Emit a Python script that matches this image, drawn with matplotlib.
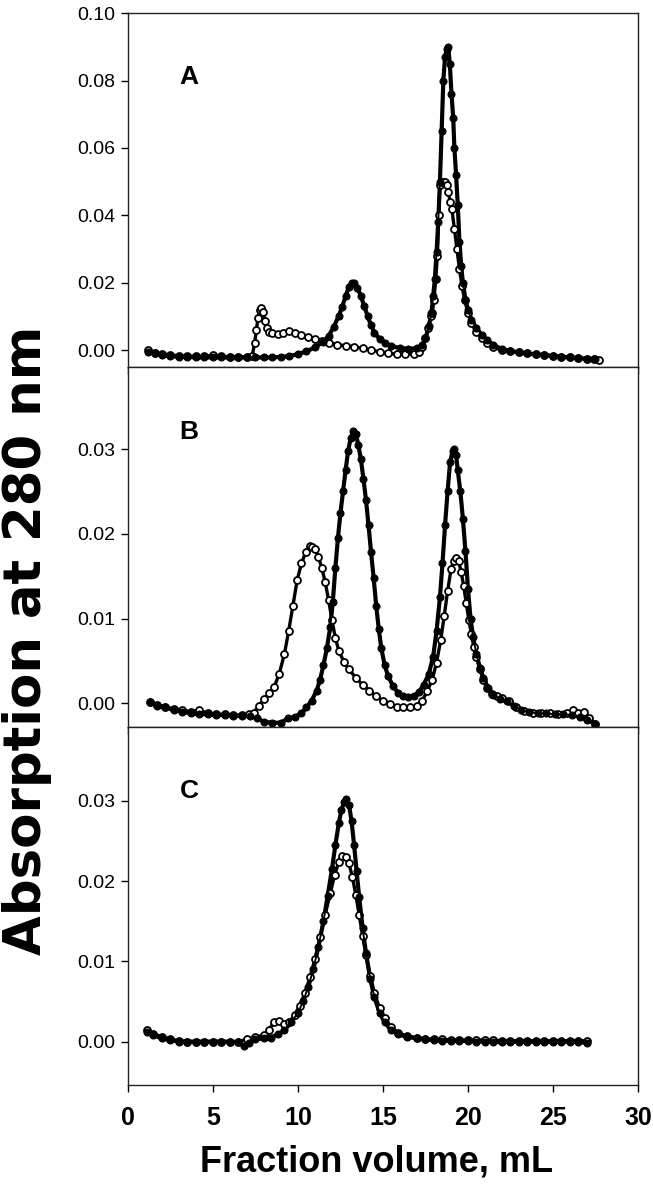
import matplotlib.pyplot as plt

# ---- panel A ----
a_fill_x = [1.2, 1.6, 2.0, 2.5, 3.0, 3.5, 4.0, 4.5, 5.0, 5.5, 6.0, 6.5, 7.0, 7.5, 8.0, 8.5,
            9.0, 9.5, 10.0, 10.5, 11.0, 11.5, 11.8, 12.1, 12.4, 12.6, 12.8, 13.0, 13.15, 13.3,
            13.5, 13.7, 13.9, 14.1, 14.3, 14.5, 14.8, 15.1, 15.5, 16.0, 16.5, 17.0, 17.3, 17.5,
            17.7, 17.85, 17.95, 18.05, 18.15, 18.25, 18.35, 18.45, 18.55, 18.65, 18.75, 18.84,
            18.93, 19.03, 19.13, 19.2, 19.3, 19.4, 19.5, 19.6, 19.7, 19.85, 20.0, 20.2, 20.5,
            20.8, 21.1, 21.5, 22.0, 22.5, 23.0, 23.5, 24.0, 24.5, 25.0, 25.5, 26.0, 26.5, 27.0, 27.5]
a_fill_y = [-0.0005, -0.001, -0.0015, -0.0018, -0.002, -0.002, -0.0022, -0.0022, -0.0022,
            -0.0022, -0.0022, -0.0022, -0.0022, -0.0022, -0.0022, -0.0022, -0.002, -0.0018,
            -0.0012, -0.0004, 0.0008, 0.0025, 0.0042, 0.0068, 0.0102, 0.0128, 0.016, 0.0188,
            0.020, 0.0198, 0.0185, 0.016, 0.013, 0.010, 0.0073, 0.0052, 0.0033, 0.0022, 0.0012,
            0.0006, 0.0004, 0.0005, 0.0015, 0.0035, 0.007, 0.011, 0.016, 0.021, 0.029, 0.038,
            0.050, 0.065, 0.080, 0.087, 0.0895, 0.090, 0.085, 0.076, 0.069, 0.060, 0.052, 0.043,
            0.032, 0.025, 0.020, 0.015, 0.012, 0.009, 0.0065, 0.0045, 0.003, 0.0015, 0.0003,
            -0.0003, -0.0007, -0.001, -0.0013, -0.0015, -0.0017, -0.002, -0.0022, -0.0024,
            -0.0026, -0.0028]

a_open_x = [1.2, 1.6, 2.0, 2.5, 3.0, 3.5, 4.0, 4.5, 5.0, 5.5, 6.0, 6.5, 7.0, 7.3, 7.45, 7.55,
            7.65, 7.75, 7.85, 7.95, 8.05, 8.15, 8.3, 8.5, 8.8, 9.1, 9.5, 9.8, 10.2, 10.6, 11.0,
            11.4, 11.8, 12.3, 12.8, 13.3, 13.8, 14.3, 14.8, 15.3, 15.8, 16.3, 16.8, 17.1, 17.3,
            17.5, 17.65, 17.8, 17.9, 18.0, 18.1, 18.2, 18.28, 18.35, 18.45, 18.55, 18.65, 18.75,
            18.85, 18.95, 19.05, 19.2, 19.35, 19.5, 19.65, 19.8, 20.0, 20.2, 20.5, 20.8, 21.1,
            21.5, 22.0, 22.5, 23.0, 23.5, 24.0, 24.5, 25.0, 25.5, 26.0, 26.5, 27.0, 27.4, 27.7]
a_open_y = [0.0, -0.0008, -0.0012, -0.0015, -0.0017, -0.0018, -0.0018, -0.0019, -0.0015,
            -0.0019, -0.002, -0.002, -0.002, -0.0018, 0.002, 0.006, 0.0095, 0.0118, 0.0124,
            0.0112, 0.0085, 0.0065, 0.0055, 0.005, 0.0049, 0.005, 0.0056, 0.0052, 0.0046, 0.004,
            0.0034, 0.0028, 0.0022, 0.0016, 0.0013, 0.001, 0.0005, 0.0, -0.0005, -0.001, -0.0012,
            -0.0012, -0.0011, -0.0005, 0.001, 0.0035, 0.0065, 0.010, 0.011, 0.015, 0.021, 0.028,
            0.040, 0.049, 0.050, 0.050, 0.050, 0.049, 0.047, 0.044, 0.042, 0.036, 0.030, 0.024,
            0.019, 0.015, 0.011, 0.008, 0.0055, 0.0035, 0.002, 0.0008, 0.0, -0.0003, -0.0007,
            -0.001, -0.0013, -0.0015, -0.0018, -0.002, -0.0022, -0.0024, -0.0026, -0.0028, -0.003]

# ---- panel B ----
b_fill_x = [1.3, 1.7, 2.2, 2.7, 3.2, 3.7, 4.2, 4.7, 5.2, 5.7, 6.2, 6.7, 7.2, 7.6, 8.0, 8.5, 9.0,
            9.4, 9.8, 10.2, 10.5, 10.8, 11.1, 11.3, 11.5, 11.7, 11.9, 12.05, 12.2, 12.35, 12.5,
            12.65, 12.8, 12.95, 13.1, 13.25, 13.4, 13.55, 13.7, 13.85, 14.0, 14.15, 14.3, 14.45,
            14.6, 14.75, 14.9, 15.1, 15.3, 15.6, 15.9, 16.2, 16.5, 16.8, 17.1, 17.4, 17.7, 17.95,
            18.15, 18.35, 18.5, 18.65, 18.8, 18.95, 19.1, 19.2, 19.3, 19.4, 19.55, 19.7, 19.85,
            20.0, 20.15, 20.3, 20.5, 20.7, 20.9, 21.2, 21.5, 21.9, 22.3, 22.7, 23.1, 23.6, 24.1,
            24.6, 25.1, 25.6, 26.1, 26.6, 27.0, 27.5]
b_fill_y = [0.0002, -0.0003, -0.0005, -0.0008, -0.001, -0.0012, -0.0013, -0.0013, -0.0014,
            -0.0014, -0.0015, -0.0015, -0.0015, -0.0018, -0.0022, -0.0023, -0.0023, -0.0018,
            -0.0016, -0.0012, -0.0005, 0.0003, 0.0015, 0.0028, 0.0045, 0.0065, 0.009, 0.012,
            0.016, 0.0195, 0.0225, 0.025, 0.0275, 0.0298, 0.0313, 0.0321, 0.0318, 0.0305, 0.0288,
            0.0265, 0.024, 0.021, 0.0178, 0.0148, 0.0115, 0.0088, 0.0065, 0.0045, 0.0032, 0.002,
            0.0012, 0.0008, 0.0007, 0.0008, 0.0013, 0.0022, 0.0035, 0.0055, 0.0085, 0.0125,
            0.0165, 0.021, 0.025, 0.0285, 0.0298, 0.030, 0.0293, 0.0275, 0.025, 0.0218, 0.018,
            0.0135, 0.010, 0.0078, 0.0058, 0.0042, 0.003, 0.0018, 0.001, 0.0005, 0.0003, -0.0003,
            -0.0008, -0.001, -0.0012, -0.0012, -0.0013, -0.0013, -0.0014, -0.0016, -0.002, -0.0024]

b_open_x = [1.3, 1.7, 2.2, 2.7, 3.2, 3.7, 4.2, 4.7, 5.2, 5.7, 6.2, 6.7, 7.1, 7.4, 7.7, 8.0, 8.3,
            8.6, 8.9, 9.2, 9.45, 9.7, 9.95, 10.2, 10.45, 10.7, 10.85, 11.0, 11.2, 11.4, 11.6,
            11.8, 12.0, 12.2, 12.4, 12.7, 13.0, 13.4, 13.8, 14.2, 14.6, 15.0, 15.4, 15.8, 16.2,
            16.6, 17.0, 17.3, 17.6, 17.9, 18.15, 18.4, 18.6, 18.8, 19.0, 19.15, 19.3, 19.45, 19.6,
            19.75, 19.9, 20.05, 20.2, 20.35, 20.5, 20.7, 20.9, 21.1, 21.4, 21.7, 22.0, 22.4, 22.8,
            23.3, 23.8, 24.3, 24.8, 25.3, 25.8, 26.2, 26.5, 26.8, 27.1, 27.5]
b_open_y = [0.0002, -0.0002, -0.0004, -0.0007, -0.0008, -0.001, -0.0008, -0.0012, -0.0013,
            -0.0013, -0.0014, -0.0014, -0.0013, -0.0011, -0.0003, 0.0005, 0.0012, 0.0019, 0.0035,
            0.0058, 0.0085, 0.0115, 0.0145, 0.0165, 0.0178, 0.0186, 0.0185, 0.0182, 0.0173, 0.016,
            0.0143, 0.0122, 0.0098, 0.0077, 0.0062, 0.0049, 0.004, 0.003, 0.0022, 0.0015, 0.0008,
            0.0003, -0.0001, -0.0004, -0.0005, -0.0005, -0.0003, 0.0003, 0.0014, 0.0028, 0.0048,
            0.0075, 0.0103, 0.0132, 0.0158, 0.0168, 0.0172, 0.0168, 0.0155, 0.0138, 0.0118,
            0.0098, 0.0082, 0.0066, 0.0054, 0.004, 0.0028, 0.0018, 0.0011, 0.0008, 0.0006, 0.0003,
            -0.0005, -0.0009, -0.0011, -0.0012, -0.0012, -0.0013, -0.0012, -0.0008, -0.0012,
            -0.001, -0.0018, -0.0024]

# ---- panel C ----
c_fill_x = [1.1, 1.5, 2.0, 2.5, 3.0, 3.5, 4.0, 4.5, 5.0, 5.5, 6.0, 6.5, 6.8, 7.1, 7.5, 8.0, 8.4,
            8.8, 9.2, 9.6, 10.0, 10.3, 10.6, 10.9, 11.2, 11.5, 11.75, 12.0, 12.2, 12.4, 12.55,
            12.7, 12.85, 13.0, 13.15, 13.3, 13.45, 13.6, 13.8, 14.0, 14.25, 14.5, 14.8, 15.1,
            15.5, 15.9, 16.4, 17.0, 17.5, 18.0, 18.5, 19.0, 19.5, 20.0, 20.5, 21.0, 21.5, 22.0,
            22.5, 23.0, 23.5, 24.0, 24.5, 25.0, 25.5, 26.0, 26.5, 27.0]
c_fill_y = [0.0012, 0.0008, 0.0004, 0.0002, 0.0, 0.0, 0.0, 0.0, 0.0, 0.0, 0.0, -0.0001, -0.0005,
            -0.0002, 0.0003, 0.0004, 0.0005, 0.0009, 0.0014, 0.0024, 0.0036, 0.005, 0.0068, 0.009,
            0.0118, 0.015, 0.0182, 0.0215, 0.0245, 0.0272, 0.0288, 0.0298, 0.0302, 0.0295,
            0.0275, 0.0245, 0.0212, 0.018, 0.0142, 0.011, 0.0078, 0.0055, 0.0036, 0.0024, 0.0014,
            0.0009, 0.0006, 0.0004, 0.0003, 0.0002, 0.0001, 0.0001, 0.0001, 0.0001, 0.0, 0.0, 0.0,
            -0.0001, 0.0, 0.0, 0.0, 0.0, -0.0001, 0.0, 0.0, 0.0, 0.0, -0.0002]

c_open_x = [1.1, 1.5, 2.0, 2.5, 3.0, 3.5, 4.0, 4.5, 5.0, 5.5, 6.0, 6.5, 7.0, 7.5, 8.0, 8.3, 8.6,
            8.9, 9.2, 9.5, 9.8, 10.1, 10.4, 10.7, 11.0, 11.3, 11.6, 11.9, 12.15, 12.4, 12.6, 12.8,
            13.0, 13.2, 13.4, 13.6, 13.8, 14.0, 14.25, 14.5, 14.8, 15.1, 15.5, 15.9, 16.4, 17.0,
            17.5, 18.0, 18.5, 19.0, 19.5, 20.0, 20.5, 21.0, 21.5, 22.0, 22.5, 23.0, 23.5, 24.0,
            24.5, 25.0, 25.5, 26.0, 26.5, 27.0]
c_open_y = [0.0015, 0.001, 0.0006, 0.0003, 0.0001, 0.0, 0.0, 0.0, 0.0, 0.0, 0.0, 0.0, 0.0003,
            0.0006, 0.0008, 0.0015, 0.0025, 0.0026, 0.0022, 0.0025, 0.0033, 0.0045, 0.006, 0.008,
            0.0103, 0.013, 0.0158, 0.0185, 0.0207, 0.0224, 0.0231, 0.023, 0.0222, 0.0205, 0.0183,
            0.0158, 0.0132, 0.0108, 0.0082, 0.006, 0.0042, 0.0029, 0.0018, 0.0011, 0.0007, 0.0005,
            0.0003, 0.0003, 0.0003, 0.0002, 0.0002, 0.0002, 0.0002, 0.0002, 0.0002, 0.0001,
            0.0001, 0.0001, 0.0001, 0.0001, 0.0001, 0.0001, 0.0001, 0.0001, 0.0001, 0.0001]

panel_letters = ["A", "B", "C"]
y_ticks_a = [0.0, 0.02, 0.04, 0.06, 0.08, 0.10]
y_ticks_bc = [0.0, 0.01, 0.02, 0.03]
x_ticks = [0, 5, 10, 15, 20, 25, 30]

plt.rcParams['font.family'] = ['Liberation Sans', 'DejaVu Sans']

fig = plt.figure(figsize=(6.53, 11.99), dpi=100)
left, width = 0.196, 0.781
ax_a = fig.add_axes([left, 0.694, width, 0.295])
ax_b = fig.add_axes([left, 0.3937, width, 0.3003])
ax_c = fig.add_axes([left, 0.0951, width, 0.2986])

data = [
    (ax_a, a_fill_x, a_fill_y, a_open_x, a_open_y, (-0.005, 0.10), y_ticks_a),
    (ax_b, b_fill_x, b_fill_y, b_open_x, b_open_y, (-0.0028, 0.0397), y_ticks_bc),
    (ax_c, c_fill_x, c_fill_y, c_open_x, c_open_y, (-0.0054, 0.0392), y_ticks_bc),
]

for (ax, fx, fy, ox, oy, ylim, yt), letter in zip(data, panel_letters):
    # thick underlay lines mimic the very dense sampling of the original trace
    ax.plot(ox, oy, color='black', lw=2.4, zorder=2)
    ax.plot(fx, fy, color='black', lw=3.0, zorder=2)
    ax.plot(ox, oy, ls='none', marker='o', ms=5.0, mfc='white',
            mec='black', mew=1.3, zorder=3)
    ax.plot(fx, fy, color='black', lw=1.4, marker='o', ms=5.0, mfc='black',
            mec='black', mew=0.8, zorder=4)
    ax.set_xlim(0, 30)
    ax.set_ylim(*ylim)
    ax.set_yticks(yt)
    ax.set_yticklabels(["%.2f" % v for v in yt], fontsize=14)
    ax.set_xticks(x_ticks)
    ax.tick_params(direction='out', length=5, width=1, colors='black', pad=4)
    for s in ax.spines.values():
        s.set_linewidth(1.0)
        s.set_color('#222222')
    ax.text(0.12, 0.82, letter, transform=ax.transAxes, fontsize=19,
            fontweight='bold', ha='center', va='center')

ax_a.set_xticklabels([])
ax_b.set_xticklabels([])
ax_c.set_xticklabels([str(v) for v in x_ticks], fontsize=18, fontweight='bold',
                     family=['Liberation Sans Narrow', 'Liberation Sans'])
ax_c.tick_params(axis='x', pad=10)

fig.text(0.041, 0.466, "Absorption at 280 nm", rotation=90, ha='center', va='center',
         fontsize=37, fontweight='bold', family=['DejaVu Sans'])
fig.text(0.577, 0.031, "Fraction volume, mL", ha='center', va='center',
         fontsize=26, fontweight='bold')

fig.savefig("out.png", dpi=100)
